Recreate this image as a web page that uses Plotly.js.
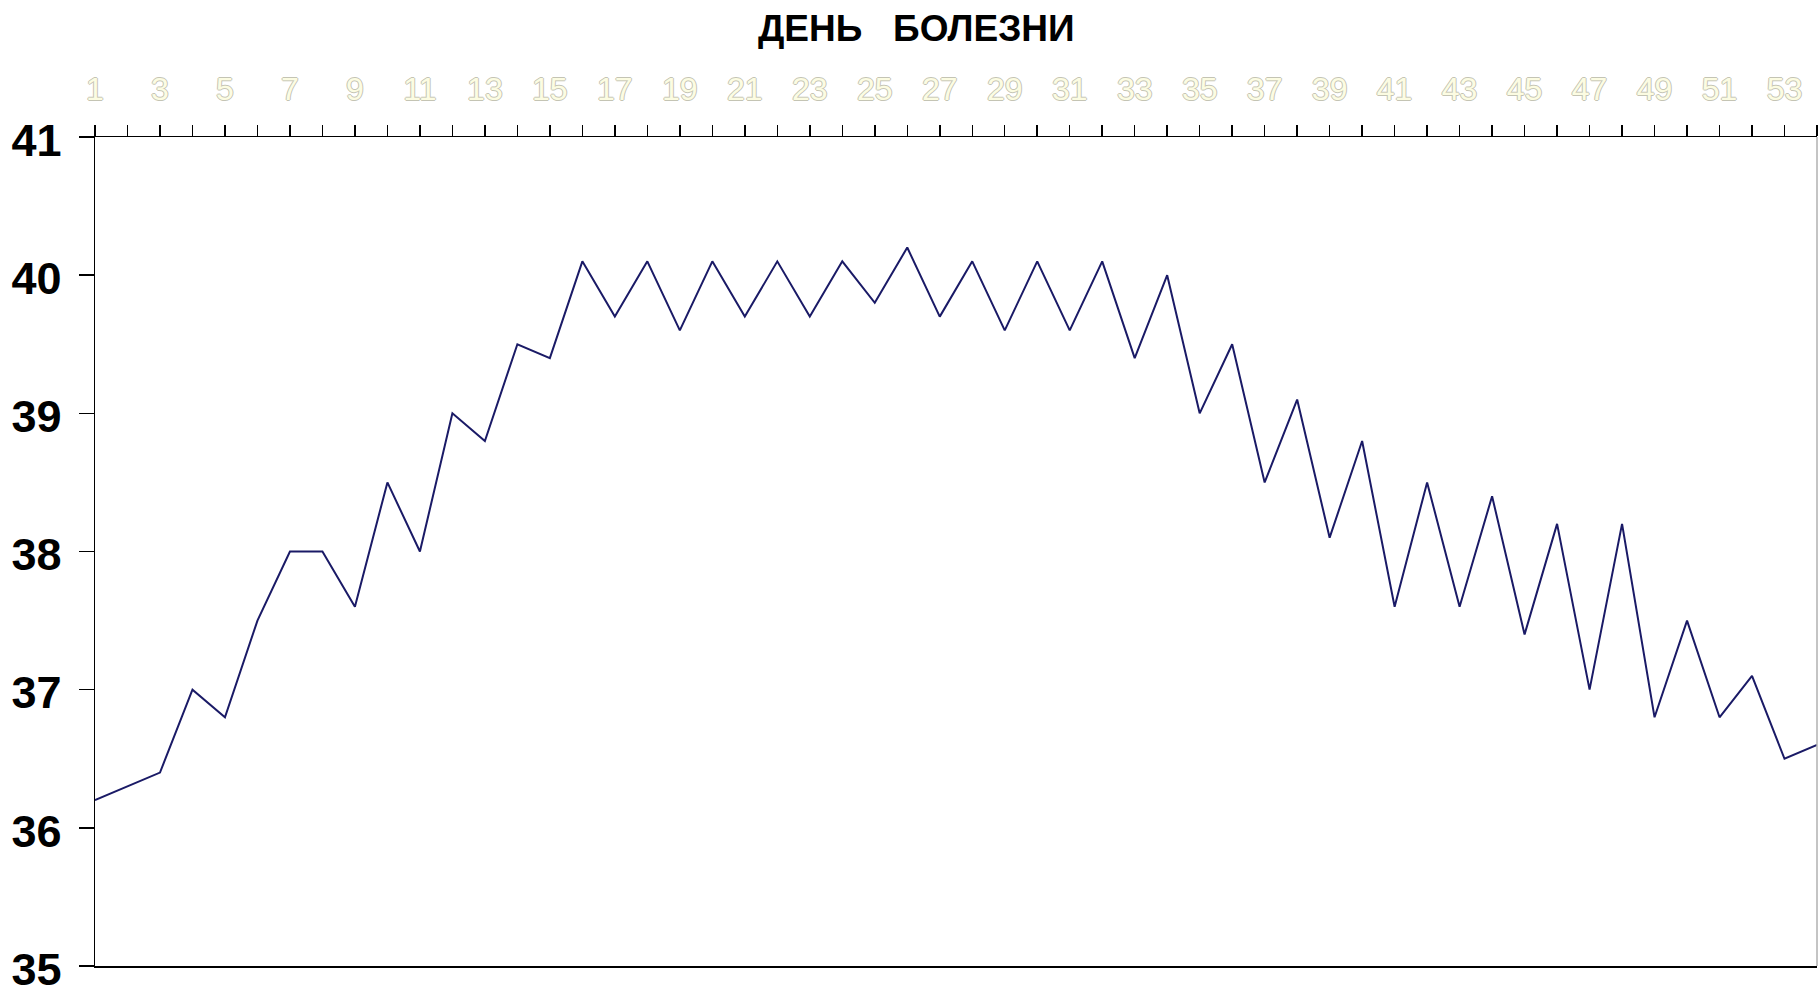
<!DOCTYPE html>
<html>
<head>
<meta charset="utf-8">
<script src="https://cdn.plot.ly/plotly-3.0.1.min.js"></script>
<style>
  html, body { margin: 0; padding: 0; background: #ffffff; }
  #chart { width: 1818px; height: 989px; }
</style>
</head>
<body>
<div id="chart"></div>
<script>
// Day of illness (x) and body temperature (y)
const days = [1,2,3,4,5,6,7,8,9,10,11,12,13,14,15,16,17,18,19,20,21,22,23,24,25,26,27,
              28,29,30,31,32,33,34,35,36,37,38,39,40,41,42,43,44,45,46,47,48,49,50,51,52,53,54];
const temperature = [36.2,36.3,36.4,37.0,36.8,37.5,38.0,38.0,37.6,38.5,38.0,39.0,38.8,39.5,39.4,
                     40.1,39.7,40.1,39.6,40.1,39.7,40.1,39.7,40.1,39.8,40.2,39.7,40.1,39.6,40.1,
                     39.6,40.1,39.4,40.0,39.0,39.5,38.5,39.1,38.1,38.8,37.6,38.5,37.6,38.4,37.4,
                     38.2,37.0,38.2,36.8,37.5,36.8,37.1,36.5,36.6];
const xTickVals = [1,3,5,7,9,11,13,15,17,19,21,23,25,27,29,31,33,35,37,39,41,43,45,47,49,51,53];
const xTickText = ['1','3','5','7','9','11','13','15','17','19','21','23','25','27','29','31','33',
                   '35','37','39','41','43','45','47','49','51','53'];
const yTickVals = [35,36,37,38,39,40,41];
const titleText = 'ДЕНЬ\u00a0\u00a0\u00a0БОЛЕЗНИ';

const trace = {
  x: days,
  y: temperature,
  type: 'scatter',
  mode: 'lines',
  line: { color: '#1a1a66', width: 2 },
  hoverinfo: 'x+y'
};

const layout = {
  width: 1818,
  height: 989,
  paper_bgcolor: '#ffffff',
  plot_bgcolor: '#ffffff',
  showlegend: false,
  margin: { l: 95, r: 1, t: 137, b: 23, pad: 0 },
  title: {
    text: titleText,
    xref: 'container', x: 0.504, xanchor: 'center',
    yref: 'container', y: 0.972, yanchor: 'middle',
    font: { family: 'Liberation Sans, Arial, sans-serif', size: 37, color: '#000000', weight: 'bold' }
  },
  xaxis: {
    side: 'top',
    range: [1, 54],
    tickmode: 'array',
    tickvals: xTickVals,
    ticktext: xTickText,
    ticks: 'outside',
    ticklen: 11,
    tickwidth: 1.5,
    tickcolor: '#000000',
    minor: { dtick: 1, tick0: 0, ticks: 'outside', ticklen: 11, tickwidth: 1.5, tickcolor: '#000000', showgrid: false },
    showline: true,
    linecolor: '#000000',
    linewidth: 1.5,
    mirror: true,
    showgrid: false,
    zeroline: false,
    ticklabelstandoff: 12,
    ticklabeloverflow: 'allow',
    tickfont: {
      family: 'Liberation Sans, Arial, sans-serif',
      size: 32,
      color: '#fcfce2',
      shadow: '1px 0 0 #c4c4b4, -1px 0 0 #c4c4b4, 0 1px 0 #c4c4b4, 0 -1px 0 #c4c4b4'
    },
    fixedrange: true
  },
  yaxis: {
    range: [35, 41],
    tickmode: 'array',
    tickvals: yTickVals,
    ticks: 'outside',
    ticklen: 15,
    tickwidth: 1.5,
    tickcolor: '#000000',
    showline: true,
    linecolor: '#000000',
    linewidth: 1.5,
    mirror: false,
    showgrid: false,
    zeroline: false,
    ticklabelstandoff: 8,
    ticklabelshift: 3,
    ticklabeloverflow: 'allow',
    tickfont: { family: 'Liberation Sans, Arial, sans-serif', size: 45, color: '#000000', weight: 'bold' },
    fixedrange: true
  },
  shapes: [
    { type: 'line', xref: 'paper', yref: 'paper', x0: 1, x1: 1, y0: 0, y1: 1,
      line: { color: '#b0b0b0', width: 1.5 } }
  ]
};

Plotly.newPlot('chart', [trace], layout, { displayModeBar: false, staticPlot: true });
</script>
</body>
</html>
